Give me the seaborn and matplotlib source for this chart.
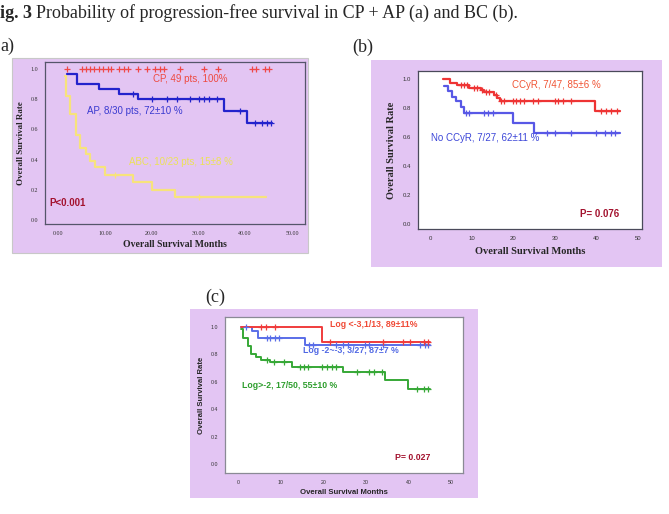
import numpy as np
import pandas as pd
import matplotlib
matplotlib.use("Agg")
import matplotlib.pyplot as plt
import seaborn as sns
from matplotlib.patches import Rectangle

W, H = 669, 514
PURPLE = "#e3c5f3"
DARKRED = "#a3122e"
SERIF = "Liberation Serif"
SANS = "Liberation Sans"

# ---- panel (a): CP / AP / ABC ----
cp_censor = [1.9, 5.1, 6.0, 6.8, 7.8, 8.7, 9.6, 10.6, 11.3, 13.1, 14.1, 15.0,
             17.0, 19.0, 20.8, 21.7, 22.7, 26.1, 31.2, 34.2, 41.4, 42.4, 44.3, 45.2]
cp_times, cp_surv = [0.0], [1.0]

ap_times = [2.0, 4.1, 8.8, 13.1, 17.0, 35.4, 40.4]
ap_surv = [0.967, 0.90, 0.867, 0.833, 0.80, 0.72, 0.644]
ap_end = 45.7
ap_censor = [16.1, 20.0, 23.3, 25.4, 28.2, 30.2, 31.2, 32.2, 34.0, 38.9,
             42.2, 43.6, 44.7, 45.5]

abc_times = [1.5, 1.7, 2.6, 3.8, 4.7, 6.0, 6.8, 7.9, 10.0, 16.1, 20.2, 25.0]
abc_surv = [0.955, 0.82, 0.70, 0.565, 0.48, 0.435, 0.39, 0.35, 0.30, 0.25, 0.20, 0.15]
abc_end = 44.5
abc_censor = [12.2, 30.2]

# ---- panel (b): CCyR / No CCyR ----
ccyr_times = [3.1, 4.8, 6.5, 9.4, 12.3, 13.0, 15.5, 16.2, 16.9, 39.6]
ccyr_surv = [1.0, 0.97, 0.954, 0.938, 0.923, 0.905, 0.884, 0.866, 0.848, 0.779]
ccyr_end = 45.6
ccyr_censor = [7.4, 8.2, 9.0, 10.6, 11.4, 12.6, 13.4, 14.3, 15.9, 17.1, 17.9,
               19.9, 20.7, 21.7, 22.7, 24.7, 25.9, 30.0, 30.8, 32.0, 34.0,
               41.2, 42.4, 43.6, 44.9]

noccyr_times = [3.4, 4.4, 5.3, 6.2, 7.4, 8.2, 19.9, 25.1]
noccyr_surv = [0.95, 0.912, 0.872, 0.846, 0.807, 0.765, 0.695, 0.625]
noccyr_end = 45.6
noccyr_censor = [8.6, 9.3, 13.0, 14.0, 15.1, 28.2, 30.0, 34.0, 40.0, 42.0, 43.6, 44.4]

# ---- panel (c): Log groups ----
low_times = [0.8, 19.6]
low_surv = [1.0, 0.89]
low_end = 45.0
low_censor = [5.5, 6.5, 8.6, 21.6, 34.1, 38.7, 40.4, 43.6, 44.5]

mid_times = [0.8, 3.4, 4.7, 15.7]
mid_surv = [1.0, 0.968, 0.92, 0.87]
mid_end = 45.0
mid_censor = [1.8, 6.7, 7.6, 8.6, 9.7, 16.7, 17.7, 23.0, 24.7, 25.9, 29.8,
              30.8, 34.1, 42.8, 44.0, 44.7]

high_times = [0.8, 1.2, 2.4, 3.0, 4.2, 5.5, 7.5, 12.6, 24.7, 34.5, 39.9]
high_surv = [0.985, 0.92, 0.86, 0.805, 0.78, 0.76, 0.742, 0.708, 0.669, 0.61, 0.547]
high_end = 45.0
high_censor = [6.8, 8.4, 10.8, 14.5, 15.5, 16.5, 19.6, 20.8, 22.0, 23.0, 27.9,
               30.8, 31.8, 33.8, 42.0, 43.6, 44.7]

y_ticks = [0.0, 0.2, 0.4, 0.6, 0.8, 1.0]
x_ticks = [0, 10, 20, 30, 40, 50]


def km_frame(times, surv, end):
    return pd.DataFrame({"month": list(times) + [end],
                         "rate": list(surv) + [surv[-1]]})


def censor_frame(times, surv, cens):
    idx = np.clip(np.searchsorted(times, cens, side="right") - 1, 0, None)
    return pd.DataFrame({"month": cens, "rate": np.asarray(surv)[idx]})


def draw_curve(ax, times, surv, end, cens, color, mark_color=None, line=True, lw=1.6):
    if line:
        sns.lineplot(data=km_frame(times, surv, end), x="month", y="rate",
                     drawstyle="steps-post", color=color, linewidth=lw,
                     estimator=None, sort=False, ax=ax)
    sns.scatterplot(data=censor_frame(times, surv, cens), x="month", y="rate",
                    marker="+", s=16, linewidth=0.9, color=mark_color or color,
                    ax=ax, zorder=5)


def px_rect(fig, l, t, r, b, **kw):
    fig.add_artist(Rectangle((l / W, 1 - b / H), (r - l) / W, (b - t) / H,
                             transform=fig.transFigure, zorder=-1, **kw))


def px_axes(fig, l, t, r, b):
    return fig.add_axes([l / W, 1 - b / H, (r - l) / W, (b - t) / H])


def style_axes(ax, xlim, ylim, xfmt, font, tick_size, spine_color):
    ax.set_xlim(*xlim)
    ax.set_ylim(*ylim)
    ax.set_xticks(x_ticks)
    ax.set_yticks(y_ticks)
    ax.set_xticklabels([xfmt.format(v) for v in x_ticks], fontsize=tick_size, family=font)
    ax.set_yticklabels(["{:.1f}".format(v) for v in y_ticks], fontsize=tick_size, family=font)
    ax.tick_params(direction="out", length=3, width=0.7, colors="#333333", pad=2)
    for s in ax.spines.values():
        s.set_visible(True)
        s.set_color(spine_color)
        s.set_linewidth(0.9)


sns.set_theme(style="white")
fig = plt.figure(figsize=(W / 100, H / 100), dpi=100)

# caption and panel tags (left edge of the page is cropped in the source)
fig.text(0, 1 - 13 / H, "ig. 3", family=SERIF, weight="bold", fontsize=13, va="center")
fig.text(36 / W, 1 - 13 / H, "Probability of progression-free survival in CP + AP (a) and BC (b).",
         family=SERIF, fontsize=13, va="center")
fig.text(0, 1 - 46 / H, "a)", family=SERIF, fontsize=13, va="center")
fig.text(352 / W, 1 - 47 / H, "(b)", family=SERIF, fontsize=13, va="center")
fig.text(205 / W, 1 - 297 / H, "(c)", family=SERIF, fontsize=13, va="center")

# ---------- (a) ----------
px_rect(fig, 12, 58, 308, 253, facecolor=PURPLE, edgecolor="#c8c8c8", linewidth=0.8)
ax = px_axes(fig, 45, 62, 305, 224)
ax.set_facecolor(PURPLE)
draw_curve(ax, cp_times, cp_surv, 45.2, cp_censor, "#f04848", line=False)
draw_curve(ax, abc_times, abc_surv, abc_end, abc_censor, "#f7e37c")
draw_curve(ax, ap_times, ap_surv, ap_end, ap_censor, "#2323cc")
style_axes(ax, (-2.78, 52.8), (-0.027, 1.047), "{:.2f}", SERIF, 4.3, "#55556a")
ax.set_xlabel("Overall Survival Months", family=SERIF, weight="bold", fontsize=7, labelpad=3)
ax.set_ylabel("Overall Survival Rate", family=SERIF, weight="bold", fontsize=6.5, labelpad=4)
ax.text(20.3, 0.933, "CP, 49 pts, 100%", color="#ee4a40", family=SANS, fontsize=7, va="center")
ax.text(6.2, 0.72, "AP, 8/30 pts, 72\u00b110 %", color="#3a3ad0", family=SANS, fontsize=7, va="center")
ax.text(15.2, 0.387, "ABC, 10/23 pts, 15\u00b18 %", color="#ece257", family=SANS, fontsize=7, va="center")
ax.text(-1.9, 0.113, "P<0.001", color=DARKRED, family=SANS, weight="bold", fontsize=7, va="center")

# ---------- (b) ----------
px_rect(fig, 371, 60, 662, 267, facecolor=PURPLE, edgecolor="none")
ax = px_axes(fig, 418, 71, 642, 229)
ax.set_facecolor("white")
draw_curve(ax, noccyr_times, noccyr_surv, noccyr_end, noccyr_censor, "#5858e6")
draw_curve(ax, ccyr_times, ccyr_surv, ccyr_end, ccyr_censor, "#ee3434")
style_axes(ax, (-2.9, 51.0), (-0.034, 1.052), "{:d}", SANS, 4.3, "#4a4a5a")
ax.set_xlabel("Overall Survival Months", family=SERIF, weight="bold", fontsize=7.5, labelpad=4)
ax.set_ylabel("Overall Survival Rate", family=SERIF, weight="bold", fontsize=7.5, labelpad=5)
ax.text(19.7, 0.955, "CCyR, 7/47, 85\u00b16 %", color="#f05434", family=SANS, fontsize=7, va="center")
ax.text(0.2, 0.589, "No CCyR, 7/27, 62\u00b111 %", color="#3c46d8", family=SANS, fontsize=7, va="center")
ax.text(36.0, 0.069, "P= 0.076", color=DARKRED, family=SANS, weight="bold", fontsize=7, va="center")

# ---------- (c) ----------
px_rect(fig, 190, 309, 478, 498, facecolor=PURPLE, edgecolor="none")
ax = px_axes(fig, 225, 317, 463, 473)
ax.set_facecolor("white")
draw_curve(ax, high_times, high_surv, high_end, high_censor, "#36a836", lw=1.4)
draw_curve(ax, mid_times, mid_surv, mid_end, mid_censor, "#5a6ee8", lw=1.4)
draw_curve(ax, low_times, low_surv, low_end, low_censor, "#f03c3c", lw=1.4)
style_axes(ax, (-3.05, 52.8), (-0.066, 1.073), "{:d}", SANS, 3.8, "#8a8a95")
ax.set_xlabel("Overall Survival Months", family=SANS, weight="bold", fontsize=5.6, labelpad=3)
ax.set_ylabel("Overall Survival Rate", family=SANS, weight="bold", fontsize=5.6, labelpad=4)
ax.text(21.6, 1.02, "Log <-3,1/13, 89\u00b111%", color="#f04a36", family=SANS, weight="bold",
        fontsize=6.3, va="center")
ax.text(15.3, 0.825, "Log -2~-3, 3/27, 87\u00b17 %", color="#5068e4", family=SANS, weight="bold",
        fontsize=6.3, va="center")
ax.text(0.94, 0.57, "Log>-2, 17/50, 55\u00b110 %", color="#2e9e2e", family=SANS, weight="bold",
        fontsize=6.3, va="center")
ax.text(36.9, 0.05, "P= 0.027", color=DARKRED, family=SANS, weight="bold", fontsize=6.3, va="center")

fig.savefig("out.png", dpi=100)
